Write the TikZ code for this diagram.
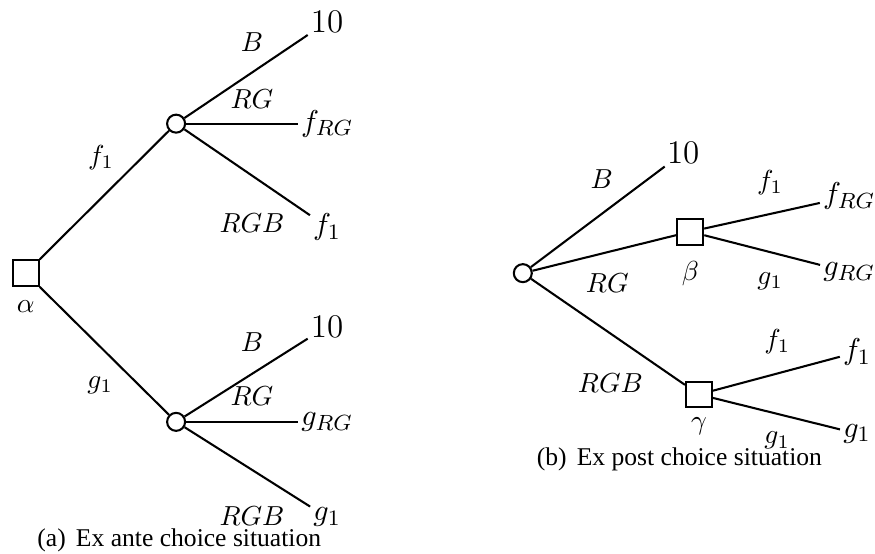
\documentclass[tikz,border=0pt]{standalone}
\usepackage[no-math]{fontspec}
\setmainfont{Liberation Serif}
\usepackage{amsmath,amssymb}
\usetikzlibrary{positioning}

\begin{document}
\begin{tikzpicture}[
    quyetdinh/.style={draw,line width=0.75pt,rectangle,minimum size=0.33cm,inner sep=0pt},
    ngaunhien/.style={draw,line width=0.75pt,circle,minimum size=0.23cm,inner sep=0pt},
    ketqua/.style={inner sep=1pt,font=\fontsize{11}{13}\selectfont},
    so/.style={inner sep=1pt,font=\fontsize{12}{14}\selectfont},
    chuthich/.style={font=\fontsize{9.3}{11}\selectfont},
    nhanh/.style={line width=0.75pt}
]

            % Khung hình
            \useasboundingbox (0,0) rectangle (11.18,7.07);

            % Hình (a): nút quyết định và nút ngẫu nhiên
            \node[quyetdinh] (alpha) at (0.33,3.58) {};
            \node[below=0.05cm of alpha] (nalpha) {$\alpha$};
            \node[ngaunhien] (c1) at (2.25,5.49) {};
            \node[ngaunhien] (c2) at (2.25,1.68) {};

            % Kết quả của hình (a)
            \node[so] (a10) at (4.18,6.79) {$10$};
            \node[ketqua] (afRG) at (4.18,5.49) {$f_{RG}$};
            \node[ketqua] (af1) at (4.18,4.17) {$f_1$};
            \node[so] (b10) at (4.18,2.90) {$10$};
            \node[ketqua] (agRG) at (4.18,1.68) {$g_{RG}$};
            \node[ketqua] (ag1) at (4.18,0.46) {$g_1$};

            % Vẽ các nhánh
            \draw[nhanh] (alpha) -- (c1);
            \draw[nhanh] (alpha) -- (c2);
            \draw[nhanh] (c1) -- (a10);
            \draw[nhanh] (c1) -- (afRG);
            \draw[nhanh] (c1) -- (af1);
            \draw[nhanh] (c2) -- (b10);
            \draw[nhanh] (c2) -- (agRG);
            \draw[nhanh] (c2) -- (ag1);

            % Nhãn của các nhánh
            \node (lf1) at (1.29,5.06) {$f_1$};
            \node (lg1) at (1.28,2.15) {$g_1$};
            \node (lB1) at (3.22,6.53) {$B$};
            \node (lRG1) at (3.22,5.81) {$RG$};
            \node (lRGB1) at (3.22,4.22) {$RGB$};
            \node (lB2) at (3.22,2.70) {$B$};
            \node (lRG2) at (3.22,2.01) {$RG$};
            \node (lRGB2) at (3.22,0.47) {$RGB$};

            % Chú thích (a)
            \node[chuthich] (capa) at (2.29,0.17) {(a)\hspace{0.4em}Ex ante choice situation};

            % Hình (b): nút ngẫu nhiên và nút quyết định
            \node[ngaunhien] (c3) at (6.68,3.58) {};
            \node[quyetdinh] (beta) at (8.82,4.11) {};
            \node[below=0.08cm of beta] (nbeta) {$\beta$};
            \node[quyetdinh] (gamma) at (8.93,2.03) {};
            \node[below=0cm of gamma] (ngamma) {$\gamma$};

            % Kết quả của hình (b)
            \node[so] (c10) at (8.73,5.12) {$10$};
            \node[ketqua] (bfRG) at (10.85,4.56) {$f_{RG}$};
            \node[ketqua] (bgRG) at (10.85,3.59) {$g_{RG}$};
            \node[ketqua] (bf1) at (10.95,2.57) {$f_1$};
            \node[ketqua] (bg1) at (10.95,1.53) {$g_1$};

            % Vẽ các nhánh
            \draw[nhanh] (c3) -- (c10);
            \draw[nhanh] (c3) -- (beta);
            \draw[nhanh] (c3) -- (gamma);
            \draw[nhanh] (beta) -- (bfRG);
            \draw[nhanh] (beta) -- (bgRG);
            \draw[nhanh] (gamma) -- (bf1);
            \draw[nhanh] (gamma) -- (bg1);

            % Nhãn của các nhánh
            \node (lB3) at (7.69,4.78) {$B$};
            \node (lRG3) at (7.76,3.45) {$RG$};
            \node (lRGB3) at (7.80,2.17) {$RGB$};
            \node (lf1b) at (9.84,4.74) {$f_1$};
            \node (lg1b) at (9.84,3.48) {$g_1$};
            \node (lf1c) at (9.93,2.71) {$f_1$};
            \node (lg1c) at (9.93,1.44) {$g_1$};

            % Chú thích (b)
            \node[chuthich] (capb) at (8.68,1.20) {(b)\hspace{0.4em}Ex post choice situation};

\end{tikzpicture}
\end{document}
